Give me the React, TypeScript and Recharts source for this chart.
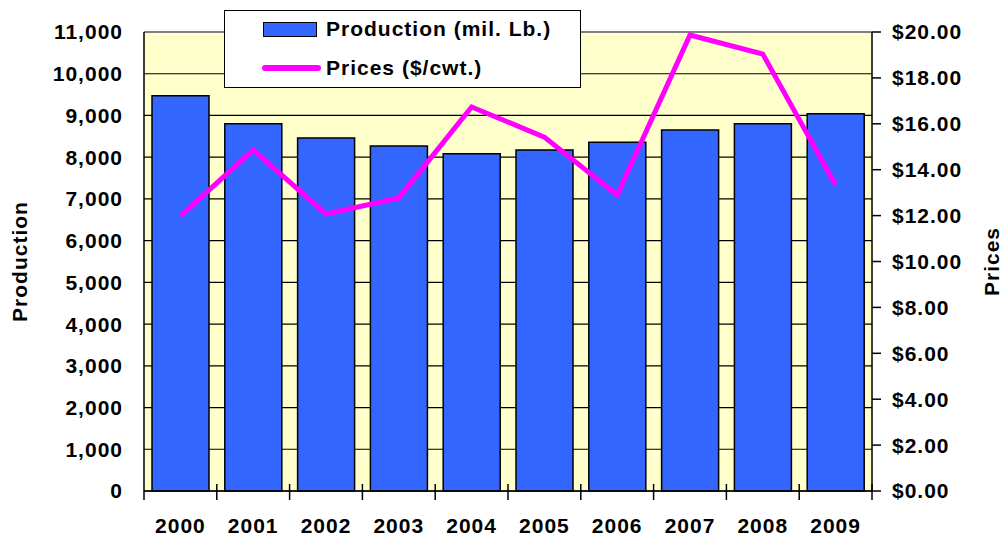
import React from 'react';
import {
  Bar,
  CartesianGrid,
  ComposedChart,
  Line,
  ReferenceLine,
  XAxis,
  YAxis,
} from 'recharts';

const years = ['2000', '2001', '2002', '2003', '2004', '2005', '2006', '2007', '2008', '2009'];
const production = [9470, 8800, 8460, 8270, 8080, 8170, 8360, 8650, 8800, 9040];
const prices = [11.98, 14.86, 12.07, 12.77, 16.73, 15.42, 12.9, 19.87, 19.04, 13.33];
const productionTicks = [0, 1000, 2000, 3000, 4000, 5000, 6000, 7000, 8000, 9000, 10000, 11000];
const priceTicks = [0, 2, 4, 6, 8, 10, 12, 14, 16, 18, 20];

const data = years.map((year, i) => ({
  year,
  production: production[i],
  prices: prices[i],
}));

const FONT = '"Liberation Sans", Arial, sans-serif';
const tickStyle = { fill: '#000', fontSize: 21, fontWeight: 700, fontFamily: FONT, letterSpacing: 1 };

// y here is the axis line itself (tickSize and tickMargin are 0)
const YearTick = (props: any) => {
  const { x, y, payload, index } = props;
  const half = payload.offset || 36.4;
  const top = y - 7;
  return (
    <g>
      <line x1={x - half} x2={x - half} y1={index === 0 ? y : top} y2={y + 9} stroke="#000" strokeWidth={1.5} />
      {index === years.length - 1 && (
        <line x1={x + half} x2={x + half} y1={top} y2={y + 9} stroke="#000" strokeWidth={1.5} />
      )}
      <text x={x} y={y + 42} textAnchor="middle" {...tickStyle}>
        {payload.value}
      </text>
    </g>
  );
};

const LegendBox = () => (
  <div
    style={{
      position: 'absolute',
      left: 224,
      top: 10,
      width: 355,
      height: 76,
      background: '#fff',
      border: '1.5px solid #000',
      fontFamily: FONT,
      fontWeight: 700,
      fontSize: 21,
      letterSpacing: 1,
      color: '#000',
    }}
  >
    <div style={{ position: 'absolute', left: 38, top: 11, width: 52, height: 13, background: '#3366FF', border: '1.5px solid #000' }} />
    <div style={{ position: 'absolute', left: 101, top: 5, lineHeight: '26px', whiteSpace: 'nowrap' }}>Production (mil. Lb.)</div>
    <div style={{ position: 'absolute', left: 37, top: 54, width: 59, height: 6, background: '#FF00FF', borderRadius: 3 }} />
    <div style={{ position: 'absolute', left: 101, top: 44, lineHeight: '26px', whiteSpace: 'nowrap' }}>Prices ($/cwt.)</div>
  </div>
);

const ProductionLabel = (props: any) => {
  const { viewBox } = props;
  const cy = viewBox.y + viewBox.height / 2;
  return (
    <text x={19} y={cy} transform={`rotate(-90 19 ${cy})`} textAnchor="middle" dominantBaseline="central" {...tickStyle}>
      Production
    </text>
  );
};

const PricesLabel = (props: any) => {
  const { viewBox } = props;
  const cy = viewBox.y + viewBox.height / 2;
  const cx = 991;
  return (
    <text x={cx} y={cy} transform={`rotate(-90 ${cx} ${cy})`} textAnchor="middle" dominantBaseline="central" {...tickStyle}>
      Prices
    </text>
  );
};

export default function App() {
  return (
    <div style={{ position: 'absolute', left: 0, top: 0, width: 1002, height: 539, background: '#fff' }}>
      <ComposedChart
        width={1002}
        height={539}
        data={data}
        margin={{ top: 32, right: 0, bottom: 0, left: 0 }}
        barCategoryGap="11%"
      >
        <CartesianGrid vertical={false} stroke="#000" strokeWidth={1.2} fill="#FFFFCC" yAxisId="left" />
        <XAxis
          dataKey="year"
          height={48}
          axisLine={{ stroke: '#000', strokeWidth: 1.5 }}
          tickLine={false}
          tickSize={0}
          tickMargin={0}
          tick={<YearTick />}
          interval={0}
        />
        <YAxis
          yAxisId="left"
          width={144}
          domain={[0, 11000]}
          ticks={productionTicks}
          tickFormatter={(v: number) => v.toLocaleString('en-US')}
          tick={tickStyle}
          axisLine={{ stroke: '#000', strokeWidth: 1.5 }}
          tickLine={false}
          tickSize={0}
          tickMargin={21}
          label={<ProductionLabel />}
        />
        <YAxis
          yAxisId="right"
          orientation="right"
          width={130}
          domain={[0, 20]}
          ticks={priceTicks}
          tickFormatter={(v: number) => `$${v.toFixed(2)}`}
          tick={{ ...tickStyle, textAnchor: 'start' }}
          axisLine={{ stroke: '#000', strokeWidth: 1.5 }}
          tickLine={{ stroke: '#000', strokeWidth: 1.5 }}
          tickSize={9}
          tickMargin={11}
          label={<PricesLabel />}
        />
        <Bar
          yAxisId="left"
          dataKey="production"
          name="Production (mil. Lb.)"
          fill="#3366FF"
          stroke="#000"
          strokeWidth={1.5}
          isAnimationActive={false}
        />
        <ReferenceLine yAxisId="left" y={11000} stroke="#808080" strokeWidth={2} />
        <Line
          yAxisId="right"
          type="linear"
          dataKey="prices"
          name="Prices ($/cwt.)"
          stroke="#FF00FF"
          strokeWidth={5}
          dot={false}
          activeDot={false}
          isAnimationActive={false}
        />
      </ComposedChart>
      <LegendBox />
    </div>
  );
}
